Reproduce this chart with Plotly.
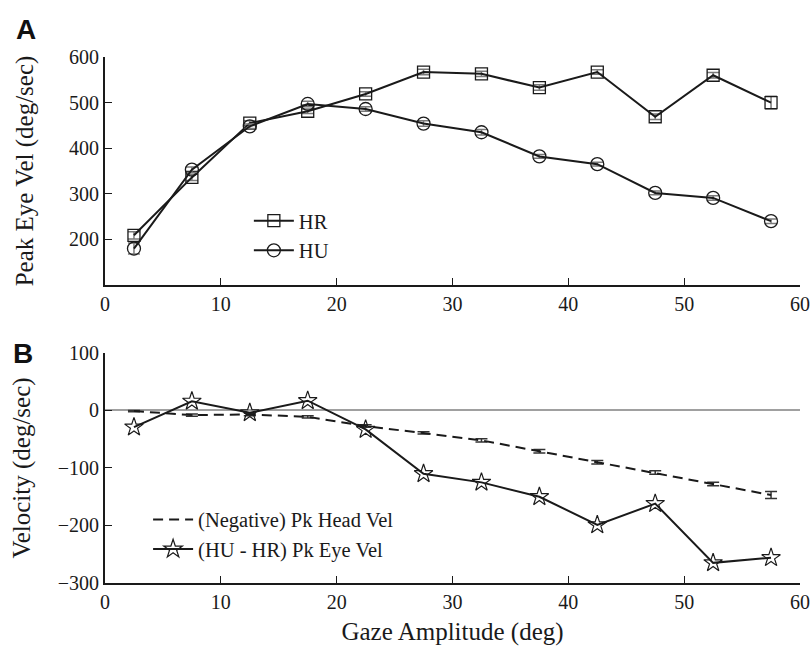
import plotly.graph_objects as go

gaze_amp = [2.5, 7.5, 12.5, 17.5, 22.5, 27.5, 32.5, 37.5, 42.5, 47.5, 52.5, 57.5]

hr_peak = [209, 336, 455, 481, 519, 567, 563, 533, 567, 469, 560, 500]
hr_err = [8, 7, 5, 5, 5, 6, 6, 6, 5, 6, 6, 14]
hu_peak = [180, 353, 448, 497, 486, 454, 435, 382, 365, 302, 291, 240]
hu_err = [12, 6, 5, 6, 5, 6, 6, 4, 4, 4, 5, 5]

neg_head_vel = [-1, -8, -7, -11, -27, -39, -52, -71, -90, -108, -128, -147]
neg_head_err = [1, 2, 2, 2, 2, 2, 3, 3, 3, 3, 3, 6]
eye_diff = [-29, 16, -4, 17, -33, -110, -125, -150, -199, -162, -265, -256]

SERIF = "Liberation Serif, Times New Roman, serif"
SANS = "Liberation Sans, Arial, sans-serif"
GRAY_ERR = "#7a7a7a"
INK = "#1a1a1a"

fig = go.Figure()

fig.add_trace(go.Scatter(
    x=gaze_amp, y=hr_peak, name="HR", mode="lines+markers",
    line=dict(color=INK, width=2),
    marker=dict(symbol="square-open", size=12, color=INK, line=dict(width=1.3)),
    error_y=dict(type="data", array=hr_err, color=GRAY_ERR, thickness=1.5, width=6),
    xaxis="x", yaxis="y", legend="legend"))
fig.add_trace(go.Scatter(
    x=gaze_amp, y=hu_peak, name="HU", mode="lines+markers",
    line=dict(color=INK, width=2),
    marker=dict(symbol="circle-open", size=13, color=INK, line=dict(width=1.3)),
    error_y=dict(type="data", array=hu_err, color=GRAY_ERR, thickness=1.5, width=6),
    xaxis="x", yaxis="y", legend="legend"))

fig.add_trace(go.Scatter(
    x=gaze_amp, y=neg_head_vel, name="(Negative) Pk Head Vel", mode="lines",
    line=dict(color=INK, width=2, dash="10px,6px"),
    error_y=dict(type="data", array=neg_head_err, color="#333333", thickness=1.5, width=6),
    xaxis="x2", yaxis="y2", legend="legend2"))
fig.add_trace(go.Scatter(
    x=gaze_amp, y=eye_diff, name="(HU - HR) Pk Eye Vel", mode="lines+markers",
    line=dict(color=INK, width=2),
    marker=dict(symbol="star-open", size=14, color=INK, line=dict(width=1.2)),
    xaxis="x2", yaxis="y2", legend="legend2"))

axis_common = dict(
    showline=True, linecolor=INK, linewidth=2, automargin=False,
    ticks="inside", ticklen=7, tickwidth=1.3, tickcolor=INK,
    showgrid=False, tickfont=dict(family=SERIF, size=20, color=INK),
)

fig.update_layout(
    width=810, height=646,
    margin=dict(l=105, r=10, t=57, b=63),
    paper_bgcolor="white", plot_bgcolor="white",
    font=dict(family=SERIF, color=INK),
    showlegend=True,
    xaxis=dict(domain=[0, 1], range=[0, 60], dtick=10, anchor="y", zeroline=False, **axis_common),
    yaxis=dict(domain=[0.5665, 1], range=[100, 600], tickvals=[200, 300, 400, 500, 600],
               anchor="x", zeroline=False,
               title=dict(text="Peak Eye Vel (deg/sec)", font=dict(family=SERIF, size=25), standoff=28),
               **axis_common),
    xaxis2=dict(domain=[0, 1], range=[0, 60], dtick=10, anchor="y2", zeroline=False,
                title=dict(text="Gaze Amplitude (deg)", font=dict(family=SERIF, size=25), standoff=10),
                **axis_common),
    yaxis2=dict(domain=[0, 0.4373], range=[-300, 100], dtick=100, anchor="x2",
                zeroline=True, zerolinecolor="#a0a0a0", zerolinewidth=1.5,
                title=dict(text="Velocity (deg/sec)", font=dict(family=SERIF, size=25), standoff=20),
                **axis_common),
    legend=dict(x=0.207, y=0.66, xanchor="left", yanchor="middle", bgcolor="rgba(0,0,0,0)",
                font=dict(family=SERIF, size=20.5, color=INK), itemwidth=40,
                tracegroupgap=0),
    legend2=dict(x=0.062, y=0.092, xanchor="left", yanchor="middle", bgcolor="rgba(0,0,0,0)",
                 font=dict(family=SERIF, size=20.5, color=INK), itemwidth=40,
                 tracegroupgap=0),
)

# Panel letters positioned in pixels converted to paper coords
plot_w = 810 - 105 - 10
plot_h = 646 - 57 - 63
def px_to_paper(px, py):
    return (px - 105) / plot_w, (646 - 63 - py) / plot_h

ax, ay = px_to_paper(14, 12)
bx, by = px_to_paper(11, 336)
fig.add_annotation(text="<b>A</b>", x=ax, y=ay, xref="paper", yref="paper", showarrow=False,
                   xanchor="left", yanchor="top",
                   font=dict(family=SANS, size=28, color="#111111"))
fig.add_annotation(text="<b>B</b>", x=bx, y=by, xref="paper", yref="paper", showarrow=False,
                   xanchor="left", yanchor="top",
                   font=dict(family=SANS, size=28, color="#111111"))

fig.write_html("out.html")
